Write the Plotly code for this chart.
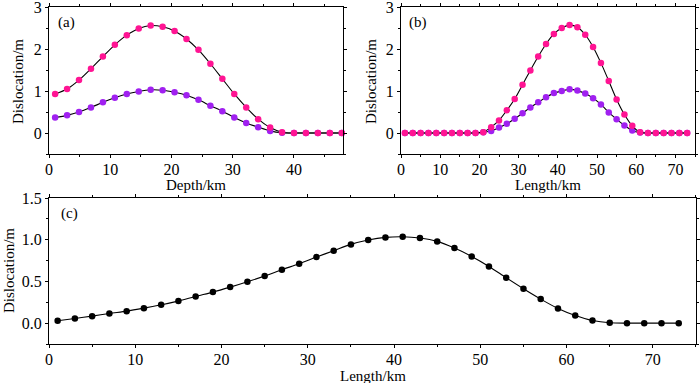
import plotly.graph_objects as go

# ---- data ----
depth_a = [1.0, 2.95, 4.9, 6.85, 8.8, 10.75, 12.7, 14.65, 16.6, 18.55, 20.5, 22.45,
           24.4, 26.35, 28.3, 30.25, 32.2, 34.15, 36.1, 38.05, 40.0, 41.95, 43.9, 45.85, 47.8]
pink_a = [0.93, 1.05, 1.26, 1.53, 1.82, 2.10, 2.33, 2.49, 2.56, 2.53, 2.43, 2.24, 1.98,
          1.65, 1.29, 0.93, 0.61, 0.33, 0.13, 0.02, 0, 0, 0, 0, 0]
purple_a = [0.37, 0.42, 0.50, 0.61, 0.73, 0.84, 0.93, 0.99, 1.03, 1.02, 0.97, 0.90, 0.79,
            0.65, 0.52, 0.37, 0.24, 0.14, 0.05, 0.005, 0, 0, 0, 0, 0]

length_bc = [1, 3, 5, 7, 9, 11, 13, 15, 17, 19, 21, 23, 25, 27, 29, 31, 33, 35, 37, 39,
             41, 43, 45, 47, 49, 51, 53, 55, 57, 59, 61, 63, 65, 67, 69, 71, 73]
pink_b = [0, 0, 0, 0, 0, 0, 0, 0, 0, 0, 0.02, 0.14, 0.30, 0.54, 0.81, 1.15, 1.49, 1.82,
          2.12, 2.36, 2.50, 2.57, 2.52, 2.34, 2.05, 1.67, 1.24, 0.80, 0.44, 0.17, 0.02,
          0, 0, 0, 0, 0, 0]
purple_b = [0, 0, 0, 0, 0, 0, 0, 0, 0, 0, 0.02, 0.05, 0.13, 0.22, 0.34, 0.47, 0.61, 0.73,
            0.85, 0.95, 1.00, 1.04, 1.01, 0.94, 0.83, 0.68, 0.49, 0.33, 0.18, 0.06, 0.01,
            0, 0, 0, 0, 0, 0]
black_c = [0.028, 0.056, 0.084, 0.116, 0.144, 0.18, 0.22, 0.264, 0.32, 0.372, 0.432,
           0.496, 0.564, 0.64, 0.712, 0.792, 0.868, 0.944, 0.996, 1.028, 1.036, 1.02,
           0.98, 0.90, 0.80, 0.68, 0.544, 0.412, 0.288, 0.176, 0.092, 0.032, 0.004,
           0, 0, 0, 0]

PINK = "#ff1493"
PURPLE = "#a020f0"
FONT = "Liberation Serif"
W, H = 700, 383


def series(x, y, color, xa, ya):
    return go.Scatter(
        x=x, y=y, mode="lines+markers", xaxis=xa, yaxis=ya,
        line=dict(color="black", width=1.1, shape="spline", smoothing=0.8),
        marker=dict(color=color, size=6.5, line=dict(width=0)),
        showlegend=False, hoverinfo="skip", cliponaxis=False,
    )


fig = go.Figure()
fig.add_trace(series(depth_a, purple_a, PURPLE, "x", "y"))
fig.add_trace(series(depth_a, pink_a, PINK, "x", "y"))
fig.add_trace(series(length_bc, purple_b, PURPLE, "x2", "y2"))
fig.add_trace(series(length_bc, pink_b, PINK, "x2", "y2"))
fig.add_trace(series(length_bc, black_c, "black", "x3", "y3"))


def px(v):
    return v / W


def py(v):
    return 1 - v / H


axis_common = dict(
    showline=True, linecolor="black", linewidth=1, mirror="allticks",
    ticks="outside", ticklen=3, tickwidth=1, tickcolor="black",
    showgrid=False, zeroline=False, automargin=False,
    ticklabeloverflow="allow",
    tickfont=dict(family=FONT, size=16, color="black"),
    fixedrange=True,
)
minor_x = dict(dtick=5, ticklen=2, ticks="outside", tickcolor="black")
minor_y = dict(ticklen=2, ticks="outside", tickcolor="black")

fig.update_layout(
    width=W, height=H, autosize=False,
    margin=dict(l=0, r=0, t=0, b=0, pad=0),
    paper_bgcolor="white", plot_bgcolor="white",
    xaxis=dict(domain=[px(49), px(343)], range=[0, 48.001], dtick=10, tick0=0, anchor="y",
               minor=minor_x, ticklabelstandoff=-2, **axis_common),
    yaxis=dict(domain=[py(154), py(7)], range=[-0.5, 3.001], dtick=1, tick0=0, anchor="x",
               minor=dict(dtick=0.5, **minor_y), **axis_common),
    xaxis2=dict(domain=[px(401), px(695)], range=[0, 75.001], dtick=10, tick0=0, anchor="y2",
                minor=minor_x, ticklabelstandoff=-2, **axis_common),
    yaxis2=dict(domain=[py(154), py(7)], range=[-0.5, 3.001], dtick=1, tick0=0, anchor="x2",
                minor=dict(dtick=0.5, **minor_y), **axis_common),
    xaxis3=dict(domain=[px(49), px(696)], range=[0, 75.001], dtick=10, tick0=0, anchor="y3",
                minor=minor_x, ticklabelstandoff=-2, **axis_common),
    yaxis3=dict(domain=[py(344), py(198)], range=[-0.25, 1.5001], dtick=0.5, tick0=0, anchor="x3",
                tickformat=".1f", minor=dict(dtick=0.25, **minor_y), **axis_common),
)

title_font = dict(family=FONT, size=15, color="black")
annots = [
    # panel labels
    dict(text="(a)", x=px(56), y=py(22.5), xanchor="left", yanchor="middle"),
    dict(text="(b)", x=px(407), y=py(22.5), xanchor="left", yanchor="middle"),
    dict(text="(c)", x=px(59), y=py(213), xanchor="left", yanchor="middle"),
    # x titles
    dict(text="Depth/km", x=px(196), y=py(185.5), xanchor="center", yanchor="middle"),
    dict(text="Length/km", x=px(548), y=py(185.5), xanchor="center", yanchor="middle"),
    dict(text="Length/km", x=px(372.5), y=py(375.5), xanchor="center", yanchor="middle"),
    # y titles
    dict(text="Dislocation/m", x=px(18), y=py(82), xanchor="center", yanchor="middle", textangle=-90),
    dict(text="Dislocation/m", x=px(371), y=py(82), xanchor="center", yanchor="middle", textangle=-90),
    dict(text="Dislocation/m", x=px(9), y=py(271), xanchor="center", yanchor="middle", textangle=-90),
]
for a in annots:
    a.update(xref="paper", yref="paper", showarrow=False, font=title_font)
    fig.add_annotation(**a)

fig.write_html(
    "out.html",
    config={"displayModeBar": False, "staticPlot": True},
    post_script="document.body.style.margin='0';document.body.style.padding='0';"
                "document.body.style.overflow='hidden';",
)
